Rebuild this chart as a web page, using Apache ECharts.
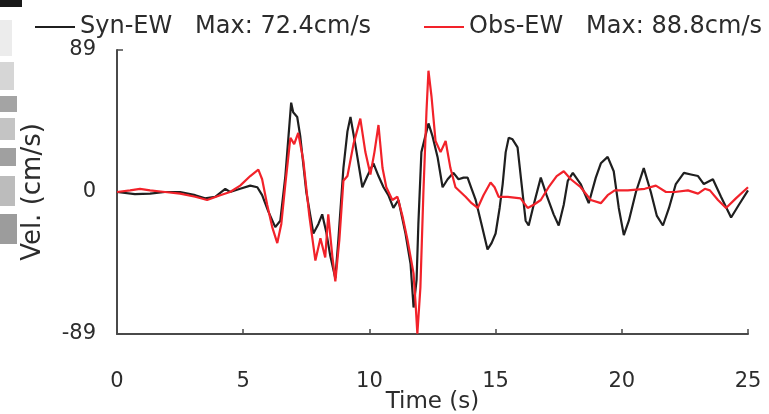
<!DOCTYPE html>
<html>
<head>
<meta charset="utf-8">
<script src="https://cdn.jsdelivr.net/npm/echarts@6/dist/echarts.min.js"></script>
<style>
  html, body { margin: 0; padding: 0; background: #ffffff; }
  #chart { width: 769px; height: 414px; }
</style>
</head>
<body>
<div id="chart"></div>
<script>
// Synthetic EW velocity record (time in s, velocity in cm/s)
const synTime = [0.00, 0.71, 1.31, 1.90, 2.50, 3.10, 3.49, 3.89, 4.29, 4.48,
  4.88, 5.28, 5.56, 5.75, 5.99, 6.27, 6.47, 6.67, 6.90, 6.98,
  7.14, 7.26, 7.50, 7.78, 7.98, 8.13, 8.29, 8.45, 8.65, 8.77,
  8.97, 9.13, 9.25, 9.44, 9.72, 9.92, 10.16, 10.36, 10.56, 10.75,
  10.95, 11.15, 11.43, 11.63, 11.75, 11.87, 11.94, 12.06, 12.34, 12.50,
  12.70, 12.90, 13.10, 13.33, 13.53, 13.73, 13.89, 14.05, 14.21, 14.44,
  14.68, 14.84, 15.00, 15.16, 15.28, 15.40, 15.52, 15.67, 15.87, 16.03,
  16.19, 16.31, 16.51, 16.79, 17.02, 17.30, 17.50, 17.70, 17.86, 18.06,
  18.37, 18.69, 18.97, 19.17, 19.44, 19.68, 19.88, 20.08, 20.28, 20.56,
  20.87, 21.15, 21.39, 21.63, 21.87, 22.14, 22.46, 22.74, 23.02, 23.25,
  23.61, 23.93, 24.33, 24.64, 25.00];
const synVel = [0, -1.3, -1, 0, 0, -2, -4, -3, 2, 0,
  2, 4, 3, -2, -12, -22, -18, 10, 56, 50,
  47, 35, 0, -26, -20, -14, -25, -40, -54, -30,
  15, 38, 47, 30, 3, 10, 18, 10, 3, -2,
  -10, -5, -26, -45, -72.4, -55, -20, 25, 43, 35,
  22, 3, 8, 12, 8, 9, 9, 2, -5, -20,
  -36, -32, -26, -10, 5, 25, 34, 33, 28, 5,
  -18, -21, -8, 9, -2, -14, -21, -8, 7, 12,
  5, -7, 9, 18, 22, 13, -10, -27, -18, 0,
  15, 0, -15, -21, -10, 5, 12, 11, 10, 5,
  8, -3, -16, -8, 1];

// Observed EW velocity record
const obsTime = [0.00, 0.52, 0.91, 1.31, 1.90, 2.50, 3.10, 3.57, 4.09, 4.48,
  4.88, 5.28, 5.60, 5.75, 5.95, 6.15, 6.35, 6.51, 6.67, 6.87,
  7.02, 7.18, 7.38, 7.62, 7.86, 8.06, 8.25, 8.37, 8.53, 8.65,
  8.81, 8.97, 9.13, 9.37, 9.64, 9.84, 10.04, 10.20, 10.36, 10.52,
  10.67, 10.91, 11.11, 11.31, 11.51, 11.75, 11.83, 11.90, 12.02, 12.14,
  12.26, 12.34, 12.46, 12.62, 12.82, 13.02, 13.21, 13.41, 13.61, 13.81,
  14.05, 14.29, 14.52, 14.80, 14.96, 15.12, 15.48, 15.99, 16.27, 16.51,
  16.79, 17.10, 17.42, 17.70, 17.98, 18.37, 18.77, 19.17, 19.44, 19.72,
  20.24, 20.91, 21.35, 21.75, 22.10, 22.62, 23.02, 23.29, 23.49, 23.81,
  24.13, 24.52, 25.00];
const obsVel = [0, 1, 2, 1, 0, -1, -3, -5, -2, 0,
  4, 10, 14, 8, -8, -22, -32, -20, 5, 34,
  30, 37, 20, -15, -43, -29, -41, -14, -40, -56,
  -30, 7, 10, 30, 46, 25, 11, 25, 42, 15,
  3, -5, -3, -15, -30, -51, -70, -88.8, -60, 0,
  50, 76, 60, 32, 25, 32, 15, 3, 0, -3,
  -7, -10, -2, 6, 3, -3, -3, -4, -10, -8,
  -5, 3, 10, 13, 8, 3, -5, -7, -2, 1,
  1, 2, 4, 0, 0, 1, -1, 2, 1, -5,
  -10, -4, 3];

const xTicks = [0, 5, 10, 15, 20, 25];
const yTicks = [-89, 0, 89];

const pairs = (t, v) => t.map((x, i) => [x, v[i]]);
const peak = v => Math.max(...v.map(Math.abs));
const peaks = { 'Syn-EW': peak(synVel), 'Obs-EW': peak(obsVel) };
const legendText = name => name + '   Max: ' + peaks[name].toFixed(1) + 'cm/s';

const FONT = 'DejaVu Sans';
const TXT = '#2c2c2c';
const AX = '#4a4a4a';

const legendBase = {
  top: 10,
  icon: 'rect',
  itemWidth: 40,
  itemHeight: 2,
  itemGap: 0,
  selectedMode: false,
  formatter: legendText,
  textStyle: { fontFamily: FONT, fontSize: 24, color: TXT }
};

// faint scraps of a neighbouring panel along the left margin
const edgeScraps = [
  { type: 'rect', shape: { x: 0, y: 0, width: 22, height: 7 }, style: { fill: '#1a1a1a' } },
  { type: 'rect', shape: { x: 0, y: 20, width: 12, height: 36 }, style: { fill: '#ececec' } },
  { type: 'rect', shape: { x: 0, y: 62, width: 14, height: 28 }, style: { fill: '#d6d6d6' } },
  { type: 'rect', shape: { x: 0, y: 96, width: 17, height: 16 }, style: { fill: '#a4a4a4' } },
  { type: 'rect', shape: { x: 0, y: 118, width: 15, height: 22 }, style: { fill: '#c4c4c4' } },
  { type: 'rect', shape: { x: 0, y: 148, width: 16, height: 18 }, style: { fill: '#a0a0a0' } },
  { type: 'rect', shape: { x: 0, y: 176, width: 15, height: 30 }, style: { fill: '#bcbcbc' } },
  { type: 'rect', shape: { x: 0, y: 214, width: 17, height: 30 }, style: { fill: '#9c9c9c' } }
];

const chart = echarts.init(document.getElementById('chart'), null, { renderer: 'canvas' });
chart.setOption({
  animation: false,
  backgroundColor: '#ffffff',
  graphic: { elements: edgeScraps.map(e => Object.assign({ silent: true, z: -1 }, e)) },
  legend: [
    Object.assign({}, legendBase, { left: 30, data: ['Syn-EW'] }),
    Object.assign({}, legendBase, { left: 419, data: ['Obs-EW'] })
  ],
  grid: { left: 117, right: 21, top: 50, bottom: 80, containLabel: false, outerBoundsMode: 'none' },
  xAxis: {
    type: 'value',
    min: xTicks[0],
    max: xTicks[xTicks.length - 1],
    interval: xTicks[1] - xTicks[0],
    name: 'Time (s)',
    nameLocation: 'middle',
    nameGap: 57,
    nameMoveOverlap: false,
    nameTextStyle: { fontFamily: FONT, fontSize: 23, color: TXT },
    axisLine: { show: true, onZero: false, lineStyle: { color: AX, width: 2 } },
    axisTick: { show: true, inside: true, length: 5, lineStyle: { color: AX, width: 1.5 } },
    axisLabel: { margin: 37, fontFamily: FONT, fontSize: 21, color: TXT },
    splitLine: { show: false }
  },
  yAxis: {
    type: 'value',
    min: yTicks[0],
    max: yTicks[yTicks.length - 1],
    interval: yTicks[2] - yTicks[1],
    name: 'Vel. (cm/s)',
    nameLocation: 'middle',
    nameGap: 71,
    nameMoveOverlap: false,
    nameTextStyle: { fontFamily: FONT, fontSize: 26, color: TXT },
    axisLine: { show: true, onZero: false, lineStyle: { color: AX, width: 2 } },
    axisTick: { show: true, inside: true, length: 6, lineStyle: { color: AX, width: 1.5 } },
    axisLabel: { margin: 21, fontFamily: FONT, fontSize: 21, color: TXT },
    splitLine: { show: false }
  },
  series: [
    {
      name: 'Syn-EW',
      type: 'line',
      data: pairs(synTime, synVel),
      showSymbol: false,
      color: '#1f1f1f',
      lineStyle: { color: '#1f1f1f', width: 2.2 }
    },
    {
      name: 'Obs-EW',
      type: 'line',
      data: pairs(obsTime, obsVel),
      showSymbol: false,
      color: '#f2222a',
      lineStyle: { color: '#f2222a', width: 2.2 }
    }
  ]
});
</script>
</body>
</html>
